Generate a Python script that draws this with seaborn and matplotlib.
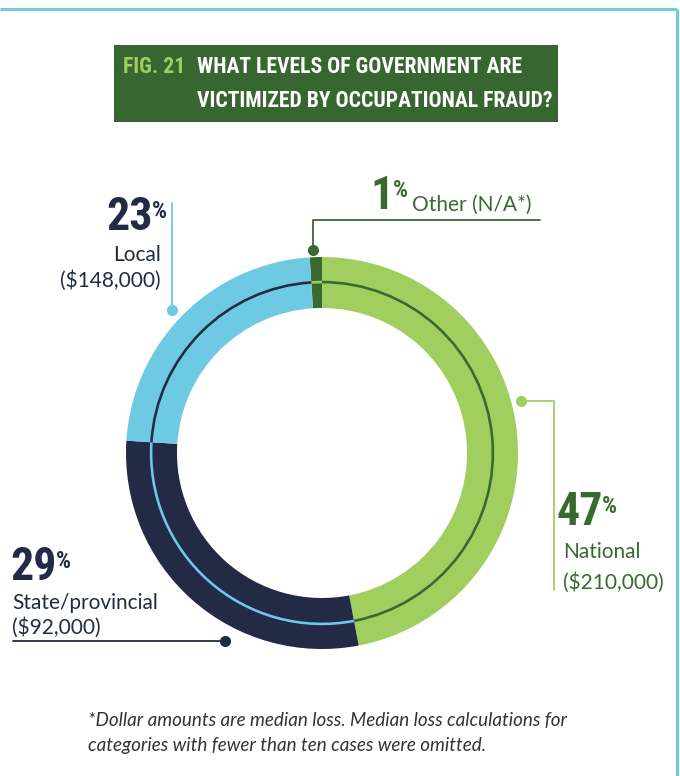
import matplotlib
matplotlib.use("Agg")
import matplotlib.pyplot as plt
import matplotlib.patches as mpatches
import seaborn as sns

# data
categories = ["Other", "National", "State/provincial", "Local"]
shares = [1, 47, 29, 23]
losses = ["(N/A*)", "($210,000)", "($92,000)", "($148,000)"]

navy = "#222a45"
dgreen = "#386a30"
lgreen = "#a0cf5f"
lblue = "#6ec9e2"
ring_colors = sns.color_palette([dgreen, lgreen, navy, lblue])
line_colors = sns.color_palette([lgreen, dgreen, lblue, navy])

sns.set_theme(style="white")
plt.rcParams["font.family"] = ["Lato", "DejaVu Sans"]

W, H = 680, 776
fig = plt.figure(figsize=(W / 100, H / 100), dpi=100)
ax = fig.add_axes([0, 0, 1, 1])


def Y(y):
    return H - y


cx, cy = 322, Y(453)
ax.pie(shares, colors=ring_colors, startangle=90 + 3.6, counterclock=False,
       radius=196, center=(cx, cy),
       wedgeprops=dict(width=51, linewidth=0))
ax.pie(shares, colors=line_colors, startangle=90 + 3.6, counterclock=False,
       radius=172.2, center=(cx, cy),
       wedgeprops=dict(width=2.6, linewidth=0))
ax.set_xlim(0, W)
ax.set_ylim(0, H)
ax.set_aspect("auto")
ax.axis("off")

# frame
ax.plot([0, 677], [Y(9), Y(9)], color=lblue, lw=2.2, solid_capstyle="butt")
ax.plot([677, 677], [Y(9), 0], color=lblue, lw=2.2, solid_capstyle="butt")

cond = ["Roboto Condensed", "DejaVu Sans"]

# title box
ax.add_patch(mpatches.Rectangle((114, Y(122)), 444, 77, color="#386630", lw=0))
tfont = dict(family=cond, stretch="condensed", weight="bold",
             size=15.6, va="baseline")
ax.text(123, Y(73), "FIG. 21", color=lgreen, **tfont)
ax.text(197, Y(73), "WHAT LEVELS OF GOVERNMENT ARE", color="white", **tfont)
ax.text(197, Y(107), "VICTIMIZED BY OCCUPATIONAL FRAUD?", color="white", **tfont)

numfont = dict(family=cond, stretch="condensed", weight="bold")
lab = dict(size=15)


def big(xr, ytop, value, color):
    # number right edge at xr, % sign right after
    ax.text(xr, Y(ytop) + 6, str(value), color=color, size=33, va="top",
            ha="right", **numfont)
    ax.text(xr - 1, Y(ytop) + 1, "%", color=color, size=17, va="top",
            ha="left", **numfont)


# Local 23%
big(153, 201, shares[3], navy)
ax.text(161, Y(255), categories[3], color=navy, ha="right", va="center", **lab)
ax.text(161, Y(281), losses[3], color=navy, ha="right", va="center", **lab)
ax.plot([172, 172], [Y(203), Y(310)], color=lblue, lw=1.3)
ax.plot([172], [Y(310)], "o", color=lblue, ms=7)

# Other 1%
big(394, 180, shares[0], dgreen)
ax.text(412, Y(205), categories[0] + " " + losses[0], color=dgreen,
        ha="left", va="center", **lab)
ax.plot([540, 313, 313], [Y(220), Y(220), Y(250)], color=dgreen, lw=1.3)
ax.plot([313], [Y(250)], "o", color=dgreen, ms=7)

# National 47%
big(603, 496, shares[1], dgreen)
ax.text(563, Y(552), categories[1], color=dgreen, ha="left", va="center", **lab)
ax.text(563, Y(583), losses[1], color=dgreen, ha="left", va="center", **lab)
ax.plot([521, 554, 554], [Y(401), Y(401), Y(590)], color=lgreen, lw=1.3)
ax.plot([521], [Y(401)], "o", color=lgreen, ms=7)

# State 29%
big(57, 551, shares[2], navy)
ax.text(12, Y(603), categories[2], color=navy, ha="left", va="center", **lab)
ax.text(12, Y(628), losses[2], color=navy, ha="left", va="center", **lab)
ax.plot([13, 225], [Y(641), Y(641)], color=navy, lw=1.3)
ax.plot([225], [Y(641)], "o", color=navy, ms=7)

# footnote
fn = dict(style="italic", size=13.6, color="#333333", va="center", ha="left")
ax.text(88, Y(720), "*Dollar amounts are median loss. Median loss calculations for", **fn)
ax.text(88, Y(745), "categories with fewer than ten cases were omitted.", **fn)

fig.savefig("out.png", dpi=100)
